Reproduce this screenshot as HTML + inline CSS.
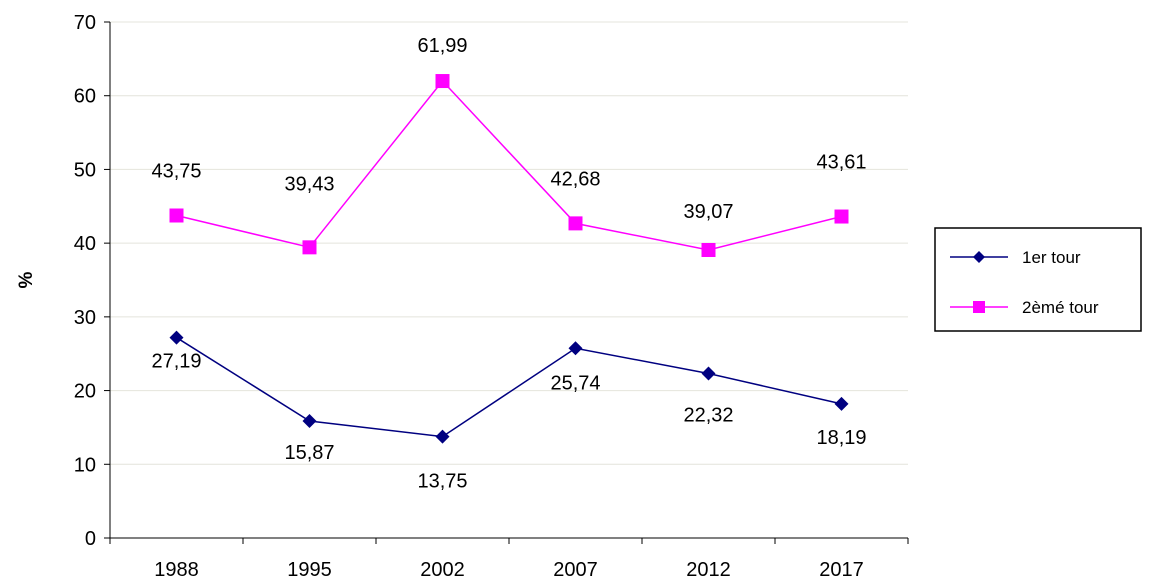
<!DOCTYPE html>
<html><head><meta charset="utf-8"><style>
html,body{margin:0;padding:0;background:#fff;}
svg{display:block;font-family:"Liberation Sans",Arial,sans-serif;}
</style></head><body>
<svg id="c" width="1153" height="583" viewBox="0 0 1153 583"></svg>
<script>
const categories=["1988","1995","2002","2007","2012","2017"];
const tour1=[27.19,15.87,13.75,25.74,22.32,18.19];
const tour2=[43.75,39.43,61.99,42.68,39.07,43.61];
const tour1Labels=["27,19","15,87","13,75","25,74","22,32","18,19"];
const tour2Labels=["43,75","39,43","61,99","42,68","39,07","43,61"];
const yTicks=[0,10,20,30,40,50,60,70];

const svg=document.getElementById('c');
const NS="http://www.w3.org/2000/svg";
const L=110,R=908,T=22,B=538,yMax=70;
const off1=[23,31,44,34,41,33];
const off2=[-45,-64,-36,-45,-39,-55];
const x=i=>L+(R-L)/categories.length*(i+0.5);
const y=v=>B-(B-T)*v/yMax;
function el(t,a,p){const e=document.createElementNS(NS,t);for(const k in a)e.setAttribute(k,a[k]);(p||svg).appendChild(e);return e;}

yTicks.forEach(v=>{
  if(v>0){const g=el('line',{x1:L,x2:R,y1:y(v),y2:y(v),stroke:'#e4e4dc','stroke-width':1});
  
  }
  const tk=el('line',{x1:L-6,x2:L,y1:y(v),y2:y(v),stroke:'#000'});
  
  
  const t=el('text',{x:L-14,y:y(v)+7,'text-anchor':'end','font-size':20});
  t.textContent=v;
  
  
});
const ax=el('line',{x1:L,x2:L,y1:T,y2:B,stroke:'#000'});


const bx=el('line',{x1:L,x2:R,y1:B,y2:B,stroke:'#000'});


for(let i=0;i<=categories.length;i++){
  const xx=L+(R-L)/categories.length*i;
  const tk=el('line',{x1:xx,x2:xx,y1:B,y2:B+6,stroke:'#000'});
  
  
}
categories.forEach((c,i)=>{
  const t=el('text',{x:x(i),y:B+38,'text-anchor':'middle','font-size':20});
  t.textContent=c;
  
  
});
const yt=el('text',{x:32,y:280,'text-anchor':'middle','font-size':19,'font-weight':'bold',transform:'rotate(-90 32 280)'});
yt.textContent='%';



function series(vals,labels,color,shape,offs,name){
  const p=el('polyline',{points:vals.map((v,i)=>x(i)+','+y(v)).join(' '),fill:'none',stroke:color,'stroke-width':1.5});
  
  
  vals.forEach((v,i)=>{
    let m;
    if(shape==='d'){const cx=x(i),cy=y(v),s=7;m=el('polygon',{points:`${cx},${cy-s} ${cx+s},${cy} ${cx},${cy+s} ${cx-s},${cy}`,fill:color});}
    else m=el('rect',{x:x(i)-7,y:y(v)-7,width:14,height:14,fill:color});
    
    
    const t=el('text',{x:x(i),y:y(v)+offs[i]+7,'text-anchor':'middle','font-size':20});
    t.textContent=labels[i];
    
    
  });
}
series(tour1,tour1Labels,'#000080','d',off1,'tour1');
series(tour2,tour2Labels,'#ff00ff','s',off2,'tour2');

const lg=el('g',{});


const box=el('rect',{x:935,y:228,width:206,height:103,fill:'#fff',stroke:'#000','stroke-width':1.5},lg);


const e1=el('line',{x1:950,x2:1008,y1:257,y2:257,stroke:'#000080','stroke-width':1.5},lg);


const d1=el('polygon',{points:'979,251 985,257 979,263 973,257',fill:'#000080'},lg);


const t1=el('text',{x:1022,y:263,'font-size':17},lg);
t1.textContent='1er tour';


const e2=el('line',{x1:950,x2:1008,y1:307,y2:307,stroke:'#ff00ff','stroke-width':1.5},lg);


const d2=el('rect',{x:973,y:301,width:12,height:12,fill:'#ff00ff'},lg);


const t2=el('text',{x:1022,y:313,'font-size':17},lg);
t2.textContent='2èmé tour';


</script>
</body></html>
